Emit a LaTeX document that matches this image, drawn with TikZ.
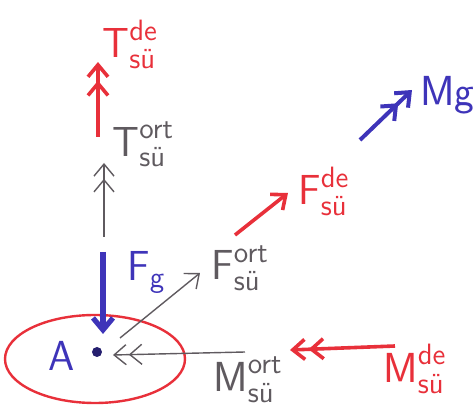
\documentclass[tikz,border=0pt]{standalone}
\usepackage{amsmath}
\usepackage{fontspec}
\usetikzlibrary{arrows.meta,shapes.geometric}
\definecolor{penred}{RGB}{232,48,58}
\definecolor{pengray}{RGB}{95,90,95}
\definecolor{penblue}{RGB}{62,52,185}
\newcommand{\flab}[3]{$\textsf{#1}^{\textsf{#2}}_{\textsf{#3}}$}
\begin{document}
\begin{tikzpicture}[x=0.5pt,y=-0.5pt,
  gline/.style={draw=pengray,line width=0.7pt},
  rline/.style={draw=penred,line width=1.8pt},
  bline/.style={draw=penblue,line width=2pt},
  onetip/.style={-{Straight Barb[length=6pt,width=10pt]}},
  twotip/.style={-{Straight Barb[length=6pt,width=10pt,sep=1pt]Straight Barb[length=6pt,width=10pt]}},
  lab/.style={font=\fontsize{21}{25}\selectfont, inner sep=0pt, anchor=base west}]
\useasboundingbox (0,0) rectangle (473,412);
% point A and region
\node[ellipse, draw=penred, line width=1.2pt, minimum width=90pt, minimum height=44pt] (ell) at (95,359) {};
\node[circle, fill=penblue!60!black, inner sep=0pt, minimum size=5pt] (A) at (97,352) {};
\node[lab, text=penblue] (Alab) at (48,371) {\textsf{A}};
% coordinates
\coordinate (trs) at (98,137);  \coordinate (tre) at (98,62);
\coordinate (tgs) at (104,237); \coordinate (tge) at (104,163);
\coordinate (fgs) at (103,252); \coordinate (fge) at (103,334);
\coordinate (fos) at (120,338); \coordinate (foe) at (200,273);
\coordinate (fds) at (235,235); \coordinate (fde) at (288,193);
\coordinate (mgs) at (360,140); \coordinate (mge) at (412,90);
\coordinate (mos) at (245,352); \coordinate (moe) at (113,355);
\coordinate (mds) at (395,346); \coordinate (mde) at (290,350);
% arrows
\draw[rline, twotip] (trs) -- (tre);
\draw[gline, twotip] (tgs) -- (tge);
\draw[bline, line width=2.6pt, onetip] (fgs) -- (fge);
\draw[gline, onetip] (fos) -- (foe);
\draw[rline, onetip] (fds) -- (fde);
\draw[bline, twotip] (mgs) -- (mge);
\draw[gline, twotip] (mos) -- (moe);
\draw[rline, twotip] (mds) -- (mde);
% labels
\node[lab, text=penred] (Tde) at (102,58) {\flab{T}{de}{sü}};
\node[lab, text=pengray] (Tort) at (112,156) {\flab{T}{ort}{sü}};
\node[lab, text=penblue] (Fg) at (127,281) {$\textsf{F}_{\textsf{g}}$};
\node[lab, text=pengray] (Fort) at (211,280) {\flab{F}{ort}{sü}};
\node[lab, text=penred] (Fde) at (298,205) {\flab{F}{de}{sü}};
\node[lab, text=penblue] (Mg) at (420,105) {\textsf{Mg}};
\node[lab, text=pengray] (Mort) at (213,392) {\flab{M}{ort}{sü}};
\node[lab, text=penred] (Mde) at (383,383) {\flab{M}{de}{sü}};
\end{tikzpicture}
\end{document}
